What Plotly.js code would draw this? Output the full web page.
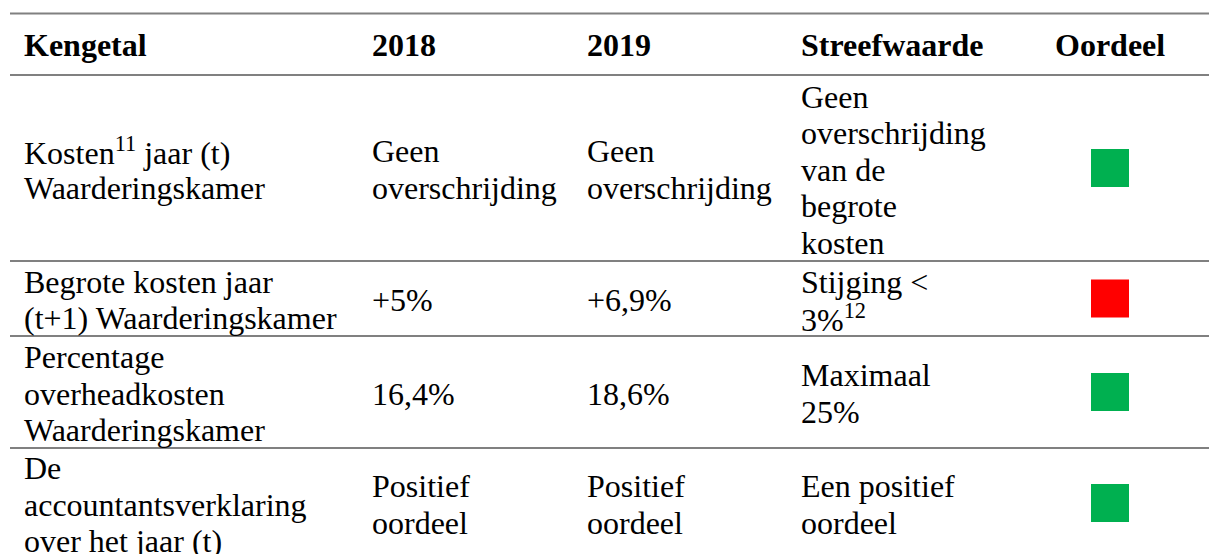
<!DOCTYPE html>
<html><head><meta charset="utf-8">
<script src="https://cdn.plot.ly/plotly-3.0.1.min.js"></script>
<style>html,body{margin:0;padding:0;background:#fff;overflow:hidden}</style>
</head><body><div id="chart" style="width:1209px;height:554px"></div>
<script>
// ---- data ----
const headers = ['Kengetal', '2018', '2019', 'Streefwaarde', 'Oordeel'];
const kengetal = [
  ['Kosten<sup>11</sup> jaar (t)', 'Waarderingskamer'],
  ['Begrote kosten jaar', '(t+1) Waarderingskamer'],
  ['Percentage', 'overheadkosten', 'Waarderingskamer'],
  ['De', 'accountantsverklaring', 'over het jaar (t)']
];
const values2018 = [['Geen', 'overschrijding'], ['+5%'], ['16,4%'], ['Positief', 'oordeel']];
const values2019 = [['Geen', 'overschrijding'], ['+6,9%'], ['18,6%'], ['Positief', 'oordeel']];
const streefwaarde = [
  ['Geen', 'overschrijding', 'van de', 'begrote', 'kosten'],
  ['Stijging &lt;', '3%<sup>12</sup>'],
  ['Maximaal', '25%'],
  ['Een positief', 'oordeel']
];
const oordeel = ['groen', 'rood', 'groen', 'groen'];

// ---- layout / style ----
const W = 1209, H = 554;
const FONT = '"Liberation Serif", "Times New Roman", Times, serif';
const FS = 32;
const LINE_H = 36.5;
const Y_OFF = 2.5;
const colX = [25, 373, 588, 802];
const oordeelX = 1110;
const headerTop = 13.5, headerBottom = 75;
const rowTop = [75, 261, 336, 448];
const rowBottom = [261, 336, 448, 558];
const ruleYs = [headerTop, headerBottom, 261, 336, 448];
const colourMap = {groen: '#00B050', rood: '#FF0000'};

const annotations = [];
const headerC = (headerTop + headerBottom) / 2 + 1;
headers.forEach((h, i) => {
  const isLast = i === headers.length - 1;
  annotations.push({
    x: isLast ? oordeelX : colX[i], y: headerC, xref: 'x', yref: 'y',
    xshift: isLast ? 0 : -3,
    text: '<b>' + h + '</b>', showarrow: false,
    xanchor: isLast ? 'center' : 'left', yanchor: 'middle',
    font: {family: FONT, size: FS, color: '#000'}
  });
});

const columns = [kengetal, values2018, values2019, streefwaarde];
columns.forEach((col, ci) => {
  col.forEach((lines, ri) => {
    const c = (rowTop[ri] + rowBottom[ri]) / 2 - 1 + Y_OFF;
    const n = lines.length;
    lines.forEach((t, li) => {
      annotations.push({
        x: colX[ci], y: c + (li - (n - 1) / 2) * LINE_H, xref: 'x', yref: 'y',
        xshift: -3,
        text: t, showarrow: false, xanchor: 'left', yanchor: 'middle',
        font: {family: FONT, size: FS, color: '#000'}
      });
    });
  });
});

const shapes = ruleYs.map(y => ({
  type: 'line', xref: 'x', yref: 'y', x0: 10, x1: W, y0: y, y1: y,
  line: {color: '#808080', width: 2}
}));

const squares = {
  type: 'scatter', mode: 'markers',
  x: oordeel.map(() => oordeelX),
  y: oordeel.map((_, i) => (rowTop[i] + rowBottom[i]) / 2),
  marker: {symbol: 'square', size: 38, color: oordeel.map(o => colourMap[o]), line: {width: 0}},
  hoverinfo: 'skip', showlegend: false
};

Plotly.newPlot('chart', [squares], {
  width: W, height: H,
  margin: {l: 0, r: 0, t: 0, b: 0, pad: 0},
  paper_bgcolor: '#fff', plot_bgcolor: '#fff',
  font: {family: FONT},
  xaxis: {range: [0, W], visible: false, fixedrange: true},
  yaxis: {range: [H, 0], visible: false, fixedrange: true},
  shapes: shapes, annotations: annotations, showlegend: false
}, {displayModeBar: false, staticPlot: true});
</script>
</body></html>
